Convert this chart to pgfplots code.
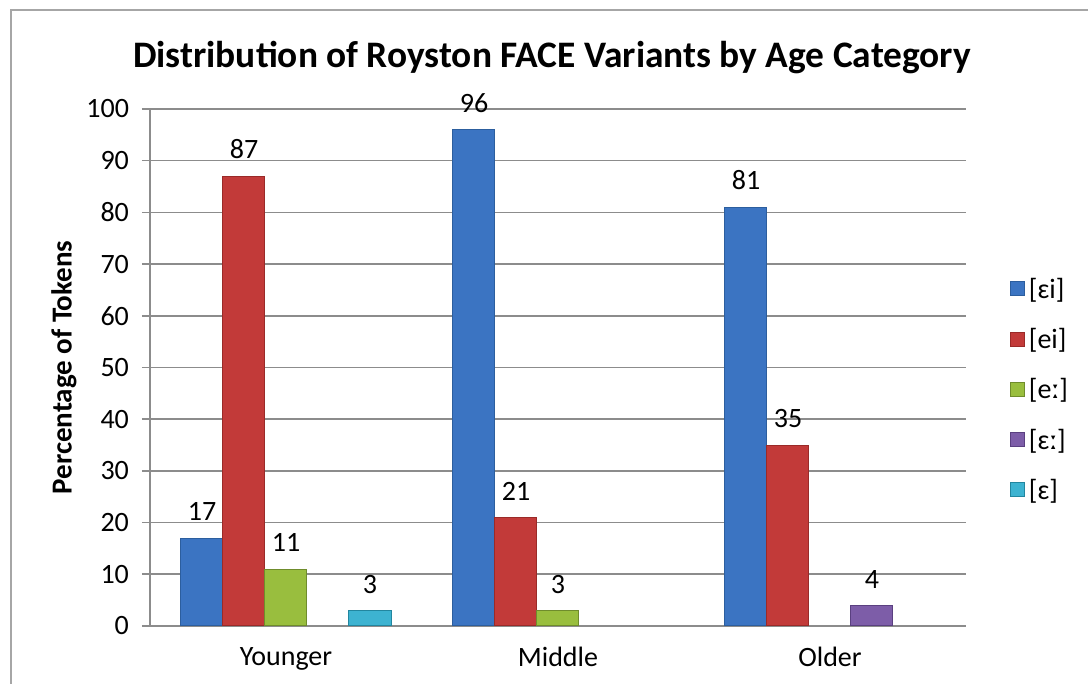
\documentclass[border=0pt]{standalone}
\usepackage{fontspec}
\setmainfont{Carlito}
\usepackage{pgfplots}
\pgfplotsset{compat=1.18}

\definecolor{gridgray}{HTML}{8C8C8C}
\definecolor{frame}{HTML}{A6A6A6}
\definecolor{sBlue}{HTML}{3B74C2}
\definecolor{sBlueD}{HTML}{2C5E9E}
\definecolor{sRed}{HTML}{C23A39}
\definecolor{sRedD}{HTML}{9A2A28}
\definecolor{sGreen}{HTML}{99BE3E}
\definecolor{sGreenD}{HTML}{6F8C2C}
\definecolor{sPurple}{HTML}{7D5DA8}
\definecolor{sPurpleD}{HTML}{5A4080}
\definecolor{sCyan}{HTML}{3DB3D1}
\definecolor{sCyanD}{HTML}{22869F}

% percentages per age group (0 = younger, 1 = middle, 2 = older)
\pgfplotstableread{
x  v
0  17
1  96
2  81
}\tabEi
\pgfplotstableread{
x  v
0  87
1  21
2  35
}\tabEiTense
\pgfplotstableread{
x  v
0  11
1  3
}\tabELong
\pgfplotstableread{
x  v
2  4
}\tabOpenLong
\pgfplotstableread{
x  v
0  3
}\tabOpen

% bar fill with a darker outline
\tikzset{bar3d/.style 2 args={draw=#2, line width=0.5pt, fill=#1}}

\begin{document}
\begin{tikzpicture}
  % outer chart frame
  \path[use as bounding box] (0,0) rectangle (544pt,342pt);
  \draw[frame, line width=1pt] (5.5pt,0pt) -- (5.5pt,337pt) -- (544pt,337pt);

  \node[font=\bfseries\fontsize{18.7}{22}\selectfont] at (276pt,313pt)
    {Distribution of Royston FACE Variants by Age Category};

  \begin{axis}[
    at={(75pt,29pt)}, anchor=south west,
    scale only axis, width=408pt, height=258.5pt,
    xmin=-0.5, xmax=2.5, ymin=0, ymax=100,
    ybar=0pt, bar width=21pt,
    xtick={0,1,2}, xticklabels={Younger,Middle,Older},
    ytick={0,10,...,100},
    axis x line*=bottom, axis y line*=left,
    axis line style={gridgray, line width=0.8pt, -},
    ymajorgrids, grid style={gridgray, line width=0.8pt},
    x tick style={draw=none},
    y tick style={gridgray, line width=0.8pt},
    tick align=outside, major tick length=4pt,
    /pgf/number format/assume math mode=true,
    tick label style={font=\fontsize{14}{15}\selectfont},
    yticklabel style={xshift=-3pt},
    xticklabel style={yshift=-3pt},
    ylabel={Percentage of Tokens},
    ylabel style={font=\bfseries\fontsize{14.5}{16}\selectfont, yshift=-2pt},
    nodes near coords,
    nodes near coords style={font=\fontsize{14}{15}\selectfont, anchor=south, yshift=5pt},
    legend style={draw=none, fill=none, at={(1.046,0.456)}, anchor=west,
      font=\fontsize{14}{15}\selectfont, row sep=9.5pt,
      /tikz/every even column/.append style={column sep=3pt}},
    legend cell align=left,
    legend image code/.code={\fill[#1] (0pt,-3pt) rectangle (7pt,4pt);},
  ]
    \addplot[bar3d={sBlue}{sBlueD}] table[x=x,y=v] {\tabEi};
    \addlegendentry{{}[ɛi]}
    \addplot[bar3d={sRed}{sRedD}] table[x=x,y=v] {\tabEiTense};
    \addlegendentry{{}[ei]}
    \addplot[bar3d={sGreen}{sGreenD}] table[x=x,y=v] {\tabELong};
    \addlegendentry{{}[eː]}
    \addplot[bar3d={sPurple}{sPurpleD}] table[x=x,y=v] {\tabOpenLong};
    \addlegendentry{{}[ɛː]}
    \addplot[bar3d={sCyan}{sCyanD}] table[x=x,y=v] {\tabOpen};
    \addlegendentry{{}[ɛ]}
  \end{axis}
\end{tikzpicture}
\end{document}
